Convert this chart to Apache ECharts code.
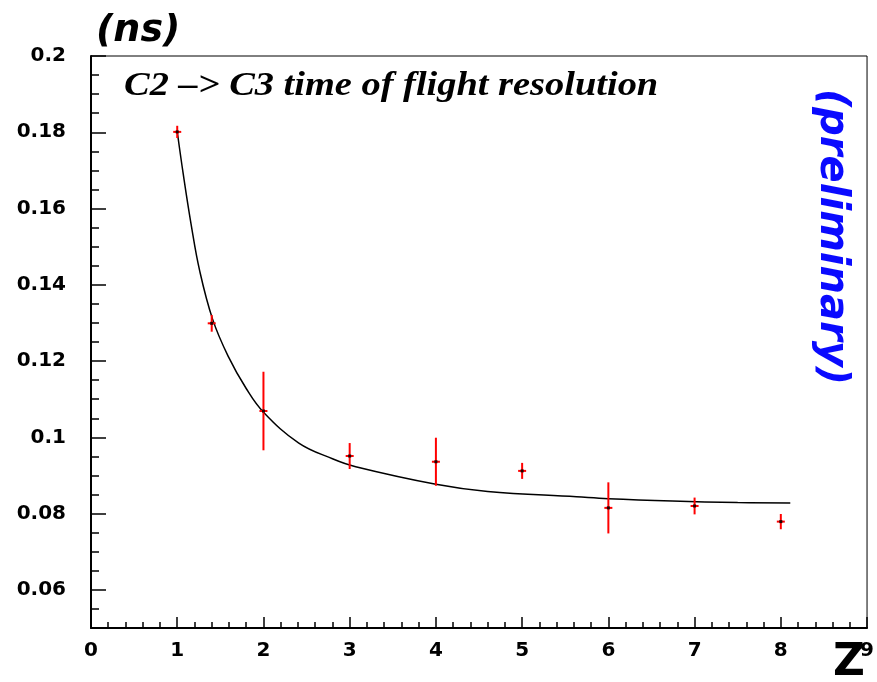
<!DOCTYPE html>
<html>
<head>
<meta charset="utf-8">
<script src="https://cdn.jsdelivr.net/npm/echarts@6/dist/echarts.min.js"></script>
<style>
  html, body { margin: 0; padding: 0; background: #fff; }
  #chart { width: 877px; height: 682px; }
</style>
</head>
<body>
<div id="chart"></div>
<script>
// Measured points: charge Z, time-of-flight resolution (ns) and its error
const chargeZ = [1, 1.4, 2, 3, 4, 5, 6, 7, 8];
const resolution = [0.1801, 0.1299, 0.1069, 0.0951, 0.0936, 0.0912, 0.0815, 0.0820, 0.0779];
const resolutionErr = [0.0016, 0.0022, 0.0103, 0.0034, 0.0063, 0.0021, 0.0067, 0.0022, 0.0020];

// Fitted resolution curve, sampled along Z
const fitZ = [1.0, 1.07, 1.16, 1.26, 1.41, 1.59, 1.8, 2.0, 2.41, 2.8, 3.07, 4.0, 4.6, 5.63, 6.0, 6.74, 7.5, 8.11];
const fitResolution = [0.1802, 0.1690, 0.1560, 0.1437, 0.1310, 0.1213, 0.1128, 0.1066, 0.0985, 0.0944, 0.0923,
                       0.0877, 0.0858, 0.0844, 0.0839, 0.0833, 0.0829, 0.0828];

// Labelled ticks on the resolution axis
const yMajorTicks = [0.06, 0.08, 0.1, 0.12, 0.14, 0.16, 0.18, 0.2];

const chart = echarts.init(document.getElementById('chart'), null, { renderer: 'canvas' });

const labelFont = { fontFamily: 'DejaVu Sans', fontWeight: 'bold', fontSize: 20, color: '#000' };

function renderErrorBar(params, api) {
  const z = api.value(0), v = api.value(1), e = api.value(2);
  const c = api.coord([z, v]);
  const hi = api.coord([z, v + e]);
  const lo = api.coord([z, v - e]);
  return {
    type: 'group',
    children: [
      { type: 'line', shape: { x1: c[0], y1: hi[1], x2: c[0], y2: lo[1] },
        style: { stroke: '#ff0000', lineWidth: 2 } },
      { type: 'line', shape: { x1: c[0] - 4, y1: c[1], x2: c[0] + 4, y2: c[1] },
        style: { stroke: '#ff0000', lineWidth: 2 } },
      { type: 'rect', shape: { x: c[0] - 1.5, y: c[1] - 1.5, width: 3, height: 3 },
        style: { fill: '#220000' } }
    ]
  };
}

const option = {
  animation: false,
  backgroundColor: '#fff',
  grid: { left: 91, right: 6, top: 56, bottom: 54, show: true, borderColor: '#000', borderWidth: 1 },
  xAxis: {
    type: 'value', min: 0, max: 9, interval: 1,
    axisLine: { show: true, onZero: false, lineStyle: { color: '#000', width: 2 } },
    axisTick: { show: true, inside: true, length: 11, lineStyle: { color: '#000', width: 1.5 } },
    minorTick: { show: true, splitNumber: 5, length: 6, lineStyle: { color: '#000', width: 1.5 } },
    splitLine: { show: false },
    minorSplitLine: { show: false },
    axisLabel: Object.assign({ margin: 13, showMinLabel: true, showMaxLabel: true }, labelFont)
  },
  yAxis: [
    {
      // fine ticks every 0.005
      type: 'value', min: 0.05, max: 0.2, interval: 0.005,
      axisLine: { show: true, onZero: false, lineStyle: { color: '#000', width: 2 } },
      axisTick: { show: true, inside: true, length: 8, lineStyle: { color: '#000', width: 1.5 } },
      axisLabel: { show: false },
      splitLine: { show: false }
    },
    {
      // labelled ticks every 0.02
      type: 'value', min: 0.05, max: 0.2, position: 'left',
      axisLine: { show: false },
      axisTick: { show: true, inside: true, length: 15, customValues: yMajorTicks,
                  lineStyle: { color: '#000', width: 1.5 } },
      axisLabel: Object.assign({ margin: 25, customValues: yMajorTicks }, labelFont),
      splitLine: { show: false }
    }
  ],
  series: [
    {
      type: 'line',
      yAxisIndex: 0,
      data: fitZ.map((z, i) => [z, fitResolution[i]]),
      smooth: 0.4,
      showSymbol: false,
      lineStyle: { color: '#000', width: 1.5 },
      z: 2
    },
    {
      type: 'custom',
      yAxisIndex: 0,
      renderItem: renderErrorBar,
      encode: { x: 0, y: 1 },
      data: chargeZ.map((z, i) => [z, resolution[i], resolutionErr[i]]),
      z: 5
    }
  ],
  graphic: [
    { type: 'text', left: 96, top: 12,
      style: { text: '(ns)', font: 'italic bold 38px "DejaVu Sans"', fill: '#000' } },
    { type: 'text', left: 124, top: 69, scaleX: 1.13,
      style: { text: 'C2 \u2013> C3 time of flight resolution', font: 'italic bold 34px "Liberation Serif"', fill: '#000' } },
    { type: 'text', x: 831, y: 237, rotation: -Math.PI / 2,
      style: { text: '(preliminary)', font: 'italic bold 40px "DejaVu Sans"', fill: '#0a0aff',
               align: 'center', verticalAlign: 'middle', textAlign: 'center', textVerticalAlign: 'middle' } },
    { type: 'text', left: 833, top: 642,
      style: { text: 'Z', font: 'bold 44px "DejaVu Sans"', fill: '#000' } }
  ]
};

chart.setOption(option);
</script>
</body>
</html>
